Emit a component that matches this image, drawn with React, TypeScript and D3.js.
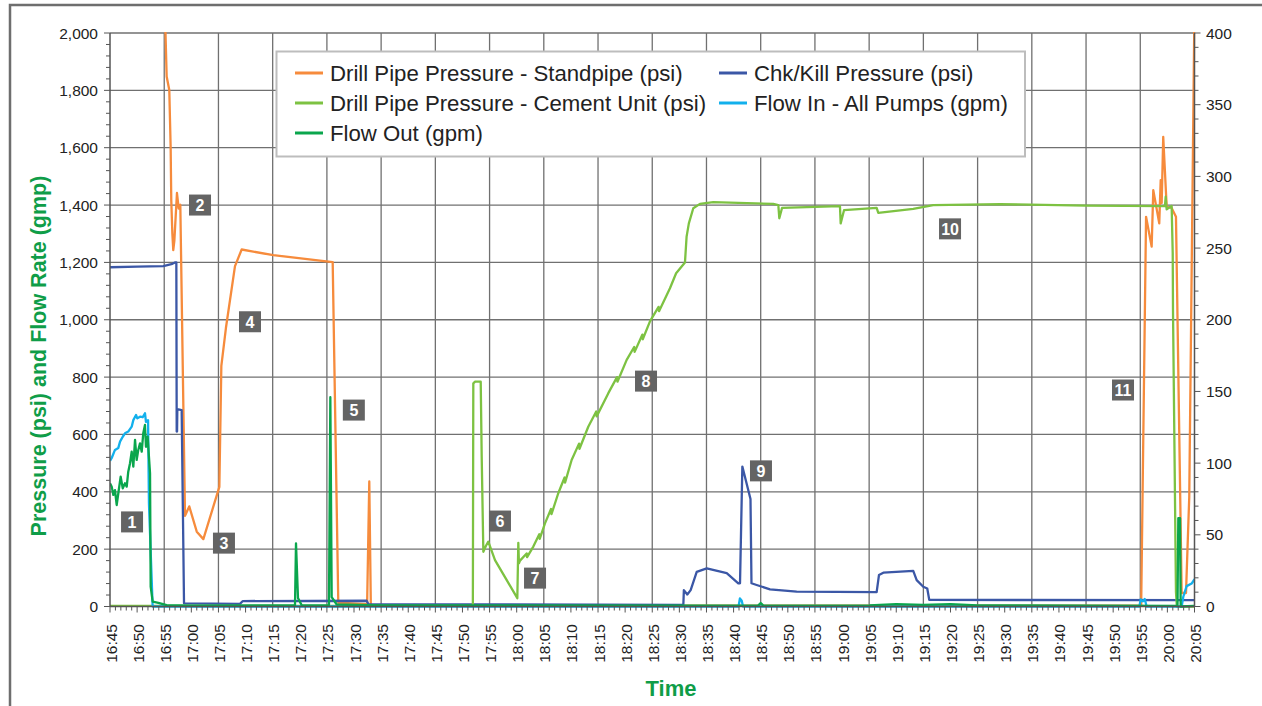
import React from 'react';
import * as d3 from 'd3';

type Pt = [string, number];

const timeLabels = ['16:45','16:50','16:55','17:00','17:05','17:10','17:15','17:20','17:25','17:30','17:35','17:40','17:45','17:50','17:55','18:00','18:05','18:10','18:15','18:20','18:25','18:30','18:35','18:40','18:45','18:50','18:55','19:00','19:05','19:10','19:15','19:20','19:25','19:30','19:35','19:40','19:45','19:50','19:55','20:00','20:05'];
const gridTimes = ['16:55','17:05','17:15','17:25','17:35','17:45','17:55','18:05','18:15','18:25','18:35','18:45','18:55','19:05','19:15','19:25','19:35','19:45','19:55'];
const leftTicks = [0, 200, 400, 600, 800, 1000, 1200, 1400, 1600, 1800, 2000];
const rightTicks = [0, 50, 100, 150, 200, 250, 300, 350, 400];

const standpipe: Pt[] = [
  ['16:45:00',2300],['16:55:08',2300],['16:55:14',2000],['16:55:27',1848],['16:55:56',1801],['16:56:11',1603],['16:56:18',1417],['16:56:30',1300],['16:56:40',1243],['16:56:52',1275],['16:57:21',1442],['16:57:40',1388],['16:57:58',1401],['16:58:50',316],['16:59:37',349],['17:01:00',261],['17:02:13',235],['17:05:10',417],['17:05:32',839],['17:06:23',972],['17:08:03',1187],['17:09:17',1245],['17:15:07',1225],['17:26:04',1201],['17:27:06',13],['17:32:25',8],['17:32:49',436],['17:33:06',5],['17:40:00',3],['18:30:00',3],['19:30:00',3],['19:55:10',3],['19:56:04',1359],['19:57:06',1255],['19:57:24',1452],['19:58:30',1336],['19:58:46',1487],['19:58:57',1407],['19:59:14',1638],['19:59:52',1394],['20:00:47',1390],['20:01:35',1359],['20:02:38',47],['20:03:26',47],['20:04:02',383],['20:05:00',2100]
];

const cementUnit: Pt[] = [
  ['16:45:00',2],['17:51:55',2],['17:52:00',778],['17:52:20',784],['17:53:22',784],['17:53:33',520],['17:53:51',191],['17:54:20',212],['17:54:46',226],['17:56:00',162],['17:58:10',92],['18:00:07',29],['18:00:18',222],['18:00:25',151],['18:00:37',160],['18:01:50',185],['18:01:55',172],['18:03:04',209],['18:04:10',252],['18:04:15',236],['18:05:13',290],['18:06:20',340],['18:06:25',322],['18:07:40',395],['18:08:50',450],['18:08:55',432],['18:10:08',511],['18:11:30',568],['18:11:35',550],['18:13:12',627],['18:14:40',680],['18:14:45',663],['18:16:54',744],['18:18:30',800],['18:18:35',784],['18:20:17',860],['18:21:40',905],['18:21:45',888],['18:23:10',948],['18:23:15',932],['18:24:36',995],['18:26:10',1045],['18:26:15',1030],['18:28:16',1110],['18:29:24',1162],['18:31:02',1200],['18:31:20',1290],['18:31:45',1336],['18:32:34',1389],['18:33:48',1404],['18:36:15',1410],['18:47:19',1404],['18:48:15',1400],['18:48:26',1354],['18:48:56',1390],['18:59:37',1396],['18:59:45',1336],['19:00:22',1382],['19:06:23',1390],['19:06:41',1373],['19:13:08',1387],['19:16:49',1400],['19:29:08',1403],['19:45:00',1398],['19:59:33',1396],['19:59:41',1429],['19:59:52',1385],['20:00:47',1397],['20:00:59',1232],['20:01:02',1034],['20:01:20',500],['20:01:35',50],['20:01:45',0],['20:05:00',0]
];

const chkKill: Pt[] = [
  ['16:45:00',1183],['16:50:00',1185],['16:54:50',1187],['16:56:30',1195],['16:56:59',1200],['16:57:14',1200],['16:57:18',610],['16:57:22',610],['16:57:25',688],['16:58:13',685],['16:58:39',11],['17:08:58',9],['17:09:30',19],['17:32:20',20],['17:32:40',8],['18:30:44',6],['18:30:50',57],['18:31:28',42],['18:32:05',57],['18:33:12',121],['18:35:03',133],['18:38:44',116],['18:40:52',81],['18:41:11',81],['18:41:37',488],['18:43:07',375],['18:43:18',81],['18:44:15',75],['18:46:43',60],['18:51:38',52],['19:06:23',50],['19:06:49',110],['19:07:37',118],['19:13:08',124],['19:13:46',92],['19:14:59',69],['19:15:43',63],['19:16:05',23],['20:05:00',22]
];

const flowIn: Pt[] = [
  ['16:45:00',508],['16:45:19',518],['16:45:55',546],['16:46:32',553],['16:46:51',575],['16:47:21',592],['16:47:46',604],['16:48:22',610],['16:49:00',627],['16:49:18',650],['16:49:48',668],['16:50:02',656],['16:50:32',662],['16:51:02',660],['16:51:27',674],['16:51:38',644],['16:52:01',650],['16:52:11',360],['16:52:52',0],['18:40:55',0],['18:41:10',28],['18:41:30',20],['18:41:45',0],['19:54:50',0],['19:55:05',25],['19:55:30',18],['19:55:50',26],['19:56:10',0],['20:02:38',0],['20:02:56',34],['20:03:33',71],['20:04:28',80],['20:05:00',95]
];

const flowOut: Pt[] = [
  ['16:45:00',430],['16:45:19',418],['16:45:37',389],['16:45:55',406],['16:46:14',354],['16:46:32',395],['16:46:58',453],['16:47:21',412],['16:47:46',430],['16:48:05',418],['16:48:22',470],['16:48:41',499],['16:49:00',540],['16:49:18',488],['16:49:37',581],['16:49:55',511],['16:50:13',546],['16:50:32',569],['16:50:51',540],['16:51:08',604],['16:51:27',633],['16:51:38',557],['16:51:57',592],['16:52:11',522],['16:52:23',464],['16:52:30',69],['16:52:52',17],['16:53:55',13],['16:55:27',5],['17:00:00',3],['17:19:07',4],['17:19:18',220],['17:19:40',30],['17:20:21',4],['17:25:23',4],['17:25:38',730],['17:25:53',33],['17:26:49',7],['17:35:00',4],['18:44:30',3],['18:45:00',12],['18:45:30',3],['19:05:00',4],['19:10:00',8],['19:15:00',6],['19:20:00',8],['19:25:00',4],['20:01:52',2],['20:02:01',308],['20:02:20',308],['20:02:27',0],['20:05:00',2]
];

const annoLabels = ['1','2','3','4','5','6','7','8','9','10','11'];
const annoTimes = ['16:49:04','17:01:36','17:06:01','17:10:49','17:29:58','17:56:55','18:03:23','18:23:51','18:45:03','19:19:55','19:51:49'];
const annoValues = [295, 1400, 221, 993, 685, 298, 99, 786, 473, 1317, 755];

const seriesNames = ['Drill Pipe Pressure - Standpipe (psi)','Chk/Kill Pressure (psi)','Drill Pipe Pressure - Cement Unit (psi)','Flow In - All Pumps (gpm)','Flow Out (gpm)'];
const seriesColors = ['#f68b3c','#3b57a6','#7dc242','#12b0ec','#0aa64d'];
const seriesData = [standpipe, chkKill, cementUnit, flowIn, flowOut];

const FONT = '"Liberation Sans", Arial, sans-serif';
const parseFull = d3.timeParse('%H:%M:%S');
const parseHM = d3.timeParse('%H:%M');

const L = 110, R = 1194.5, TOP = 33, BOT = 606.5;

export default function App() {
  const x = d3.scaleTime().domain([parseHM('16:45')!, parseHM('20:05')!]).range([L, R]);
  const y = d3.scaleLinear().domain([0, 2000]).range([BOT, TOP]);
  const y2 = d3.scaleLinear().domain([0, 400]).range([BOT, TOP]);
  const line = d3.line<Pt>().x(d => x(parseFull(d[0])!)).y(d => y(d[1]));

  const minuteTicks = d3.timeMinute.every(1)!.range(parseHM('16:45')!, d3.timeMinute.offset(parseHM('20:05')!, 1));
  const leftMinor = d3.range(0, 2001, 40);
  const rightMinor = d3.range(0, 401, 10);

  const legendOrder = [0, 1, 2, 3, 4];
  const legCol = [295, 719];
  const legRow = [73, 103, 133];

  return (
    <svg width={1262} height={706} style={{ position: 'absolute', left: 0, top: 0, background: '#fff' }} fontFamily={FONT}>
      <defs>
        <clipPath id="plotclip">
          <rect x={L} y={TOP - 1} width={R - L + 1} height={BOT - TOP + 3} />
        </clipPath>
      </defs>
      <rect x={0} y={0} width={1262} height={706} fill="#fff" />
      <rect x={10} y={5} width={1300} height={760} fill="none" stroke="#6e6e6e" strokeWidth={2.5} />

      {leftTicks.filter(v => v > 0).map(v => (
        <line key={'h' + v} x1={L} x2={R} y1={y(v)} y2={y(v)} stroke="#707070" strokeWidth={1.3} />
      ))}
      {gridTimes.map(t => (
        <line key={'v' + t} x1={x(parseHM(t)!)} x2={x(parseHM(t)!)} y1={TOP} y2={BOT} stroke="#707070" strokeWidth={1.3} />
      ))}

      <g clipPath="url(#plotclip)">
        {seriesData.map((s, i) => (
          <path key={seriesNames[i]} d={line(s)!} fill="none" stroke={seriesColors[i]} strokeWidth={2.3} strokeLinejoin="round" />
        ))}
      </g>

      <line x1={L} x2={L} y1={TOP} y2={BOT} stroke="#555" strokeWidth={1.5} />
      <line x1={R} x2={R} y1={TOP} y2={BOT} stroke="#555" strokeWidth={1.5} />
      <line x1={L} x2={R} y1={BOT} y2={BOT} stroke="#555" strokeWidth={1.5} />
      {leftMinor.map(v => (
        <line key={'lm' + v} x1={L - (v % 200 === 0 ? 6 : 4)} x2={L} y1={y(v)} y2={y(v)} stroke="#555" strokeWidth={1} />
      ))}
      {rightMinor.map(v => (
        <line key={'rm' + v} x1={R} x2={R + (v % 50 === 0 ? 6 : 4)} y1={y2(v)} y2={y2(v)} stroke="#555" strokeWidth={1} />
      ))}
      {minuteTicks.map((d, i) => (
        <line key={'xm' + i} x1={x(d)} x2={x(d)} y1={BOT} y2={BOT + (d.getMinutes() % 5 === 0 ? 6 : 4)} stroke="#555" strokeWidth={1} />
      ))}
      {leftTicks.map(v => (
        <text key={'lt' + v} x={98} y={y(v)} textAnchor="end" dominantBaseline="central" fontSize={15.5} fill="#222">{d3.format(',')(v)}</text>
      ))}
      {rightTicks.map(v => (
        <text key={'rt' + v} x={1206} y={y2(v)} textAnchor="start" dominantBaseline="central" fontSize={15.5} fill="#222">{v}</text>
      ))}
      {timeLabels.map(t => (
        <text key={'xt' + t} transform={`translate(${x(parseHM(t)!) + 1},624) rotate(-90)`} textAnchor="end" dominantBaseline="central" fontSize={15.5} fill="#222">{t}</text>
      ))}

      <text transform="translate(46,356) rotate(-90)" textAnchor="middle" fontSize={21.5} fontWeight="bold" fill="#0f9d48">Pressure (psi) and Flow Rate (gmp)</text>
      <text x={671} y={696} textAnchor="middle" fontSize={22} fontWeight="bold" fill="#0f9d48">Time</text>

      {annoLabels.map((lab, i) => {
        const cx = x(parseFull(annoTimes[i])!);
        const cy = y(annoValues[i]);
        return (
          <g key={'a' + lab}>
            <rect x={cx - 11} y={cy - 10.5} width={22} height={21} fill="#646464" />
            <text x={cx} y={cy + 0.5} textAnchor="middle" dominantBaseline="central" fontSize={16} fontWeight="bold" fill="#fff">{lab}</text>
          </g>
        );
      })}

      <rect x={276.5} y={51.5} width={748.5} height={105} fill="#fff" stroke="#bdbdbd" strokeWidth={2} />
      {legendOrder.map((si, k) => {
        const col = k % 2;
        const row = Math.floor(k / 2);
        const lx = legCol[col];
        const ly = legRow[row];
        return (
          <g key={'lg' + si}>
            <line x1={lx} x2={lx + 28} y1={ly} y2={ly} stroke={seriesColors[si]} strokeWidth={3} />
            <text x={lx + 35} y={ly} dominantBaseline="central" fontSize={22.2} fill="#222">{seriesNames[si]}</text>
          </g>
        );
      })}
    </svg>
  );
}
